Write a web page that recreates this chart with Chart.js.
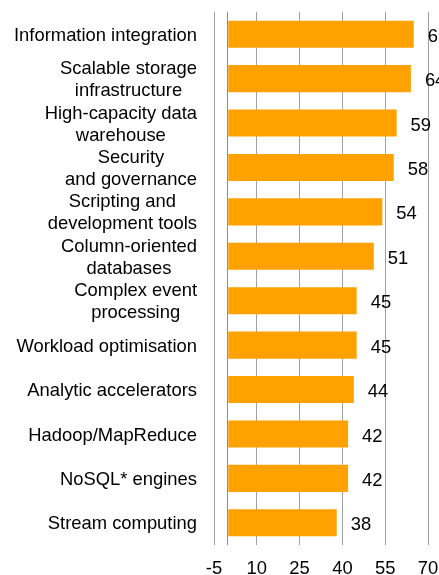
<!DOCTYPE html>
<html>
<head>
<meta charset="utf-8">
<script src="https://cdn.jsdelivr.net/npm/chart.js@4.4.1/dist/chart.umd.min.js"></script>
<style>
  html, body { margin: 0; padding: 0; background: #fff; }
  #wrap { width: 439px; height: 575px; position: relative; }
</style>
</head>
<body>
<div id="wrap"><canvas id="chart"></canvas></div>
<script>
// categories (multi-line labels as arrays) and values
const categories = [
    ['Information integration'],
    ['Scalable storage', 'infrastructure'],
    ['High-capacity data', 'warehouse'],
    ['Security', 'and governance'],
    ['Scripting and', 'development tools'],
    ['Column-oriented', 'databases'],
    ['Complex event', 'processing'],
    ['Workload optimisation'],
    ['Analytic accelerators'],
    ['Hadoop/MapReduce'],
    ['NoSQL* engines'],
    ['Stream computing']
];
const values = [65, 64, 59, 58, 54, 51, 45, 45, 44, 42, 42, 38];
const xTicks = [-5, 10, 25, 40, 55, 70];

const FONT = '"Liberation Sans", Arial, sans-serif';

// y labels: lines centred on each other, block right aligned
const yLabelPlugin = {
    id: 'yLabels',
    afterDraw(chart) {
        const ctx = chart.ctx;
        const y = chart.scales.y;
        const right = chart.chartArea.left - 17;
        ctx.save();
        ctx.font = '18.4px ' + FONT;
        ctx.fillStyle = '#000';
        ctx.textAlign = 'center';
        ctx.textBaseline = 'middle';
        categories.forEach((lines, i) => {
            const maxW = Math.max(...lines.map(l => ctx.measureText(l).width));
            const cx = right - maxW / 2;
            const cy = y.getPixelForValue(i) + 1.5;
            lines.forEach((line, j) => {
                ctx.fillText(line, cx, cy + (j - (lines.length - 1) / 2) * 22);
            });
        });
        ctx.restore();
    }
};

// zero line + value labels
const barExtras = {
    id: 'barExtras',
    afterDatasetsDraw(chart) {
        const ctx = chart.ctx;
        const x = chart.scales.x;
        const area = chart.chartArea;
        const x0 = Math.round(x.getPixelForValue(0)) - 0.5;
        ctx.save();
        ctx.strokeStyle = '#8c8c8c';
        ctx.lineWidth = 1;
        ctx.beginPath();
        ctx.moveTo(x0, area.top);
        ctx.lineTo(x0, area.bottom);
        ctx.stroke();

        ctx.font = '18.4px ' + FONT;
        ctx.fillStyle = '#000';
        ctx.textAlign = 'left';
        ctx.textBaseline = 'middle';
        chart.getDatasetMeta(0).data.forEach((bar, i) => {
            ctx.fillText(String(values[i]), bar.x + 14, bar.y + 2.5);
        });
        ctx.restore();
    }
};

new Chart(document.getElementById('chart'), {
    type: 'bar',
    data: {
        labels: categories,
        datasets: [{
            data: values,
            backgroundColor: '#FFA200',
            borderWidth: 0,
            barPercentage: 0.61,
            categoryPercentage: 1
        }]
    },
    options: {
        indexAxis: 'y',
        responsive: true,
        maintainAspectRatio: false,
        animation: false,
        layout: { padding: { top: 12, right: 0, left: 0, bottom: 0 } },
        plugins: {
            legend: { display: false },
            tooltip: { enabled: false }
        },
        scales: {
            x: {
                min: -5,
                max: 70,
                afterBuildTicks(scale) {
                    scale.ticks = xTicks.map(v => ({ value: v }));
                },
                afterFit(scale) {
                    scale.height = 30;
                    scale.paddingRight = 11;
                },
                grid: { color: '#a0a0a0', lineWidth: 1, drawTicks: false },
                border: { display: false },
                ticks: {
                    color: '#000',
                    font: { family: FONT, size: 18.4 },
                    padding: 13,
                    autoSkip: false,
                    maxRotation: 0
                }
            },
            y: {
                grid: { display: false },
                border: { display: false },
                ticks: { display: false },
                afterFit(scale) { scale.width = 214; }
            }
        }
    },
    plugins: [yLabelPlugin, barExtras]
});
</script>
</body>
</html>
